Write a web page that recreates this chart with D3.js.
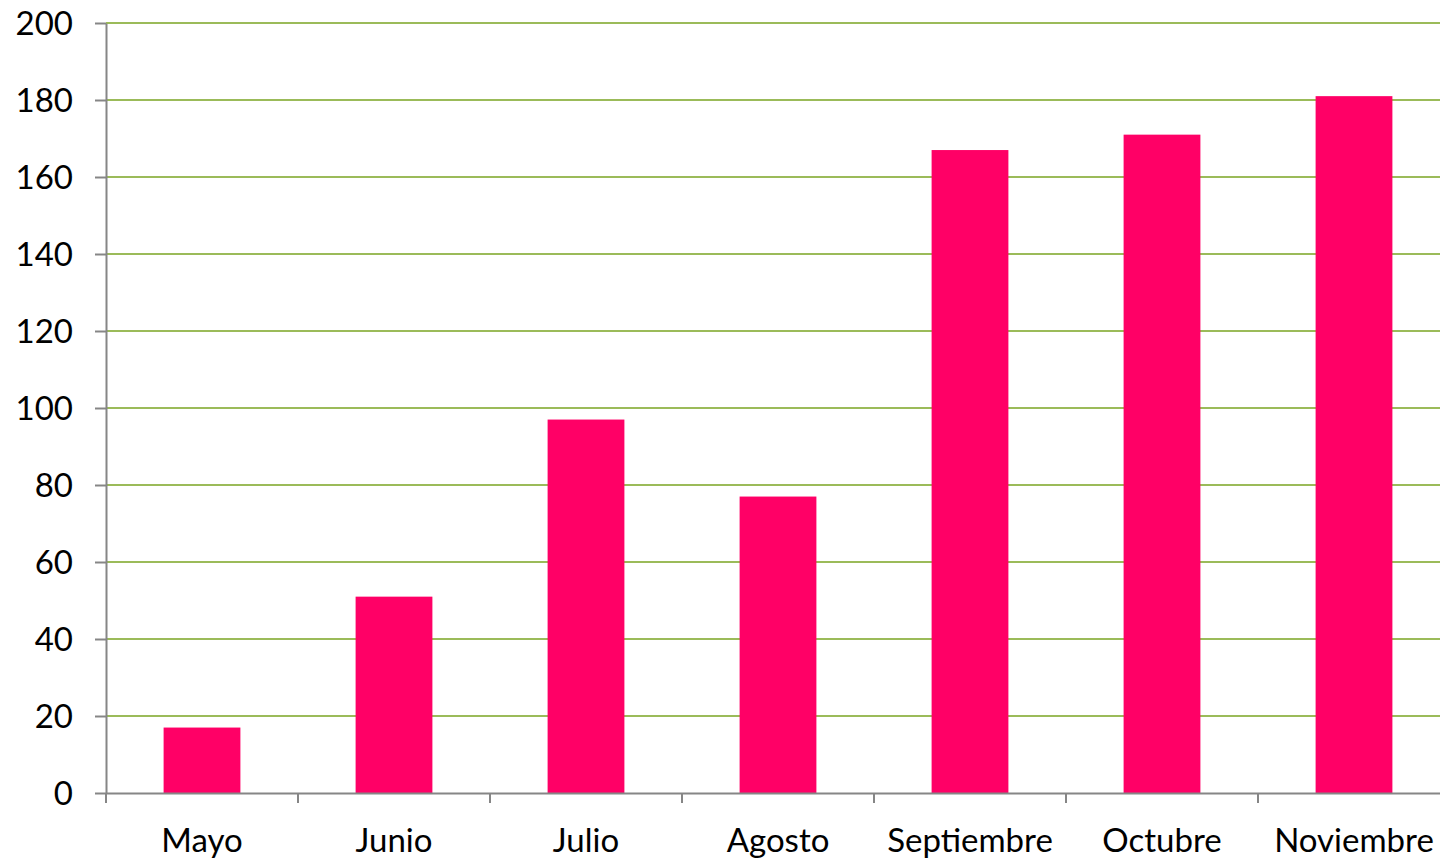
<!DOCTYPE html>
<html><head><meta charset="utf-8">
<script src="https://cdn.jsdelivr.net/npm/d3@7"></script>
<style>html,body{margin:0;padding:0;background:#fff;overflow:hidden}</style>
</head><body><svg id="c" width="1440" height="859"></svg>
<script>
const categories = ["Mayo","Junio","Julio","Agosto","Septiembre","Octubre","Noviembre"];
const values = [17, 51, 97, 77, 167, 171, 181];
const yTicks = [0,20,40,60,80,100,120,140,160,180,200];

const svg = d3.select("#c");
const mLeft = 106, mRight = 1450, mTop = 23, mBottom = 793;
const x = d3.scaleBand().domain(categories).range([mLeft, mRight]).paddingInner(0.6).paddingOuter(0.3);
const y = d3.scaleLinear().domain([0, 200]).range([mBottom, mTop]);
const font = "Lato, 'Open Sans', sans-serif";

// gridlines
svg.append("g").selectAll("line").data(yTicks.filter(d => d > 0)).join("line")
  .attr("x1", mLeft).attr("x2", 1440).attr("y1", d => y(d)).attr("y2", d => y(d))
  .attr("stroke", "#9bbb59").attr("stroke-width", 2);

// bars
svg.append("g").selectAll("rect").data(values).join("rect")
  .attr("x", (d, i) => x(categories[i])).attr("width", x.bandwidth())
  .attr("y", d => y(d)).attr("height", d => y(0) - y(d))
  .attr("fill", "#ff0066");

// y axis
const ya = svg.append("g").attr("transform", `translate(${mLeft},0)`)
  .call(d3.axisLeft(y).tickValues(yTicks).tickSize(11).tickPadding(22).tickSizeOuter(0));
ya.select(".domain").attr("stroke", "#868686").attr("stroke-width", 2);
ya.selectAll(".tick line").attr("stroke", "#868686").attr("stroke-width", 2);
ya.selectAll("text").attr("font-family", font).attr("font-size", 33).attr("fill", "#000").attr("dy", "0.35em");

// x axis
const xa = svg.append("g").attr("transform", `translate(0,${mBottom})`)
  .call(d3.axisBottom(x).tickSize(0).tickPadding(36).tickSizeOuter(0));
xa.select(".domain").attr("stroke", "#868686").attr("stroke-width", 2);
xa.selectAll("text").attr("font-family", font).attr("font-size", 33).attr("fill", "#000");
// category boundary ticks
const bounds = categories.map(c => x(c) - x.step() * 0.3).concat([mRight]);
xa.append("g").selectAll("line").data(bounds).join("line")
  .attr("x1", d => d).attr("x2", d => d).attr("y1", 0).attr("y2", 10)
  .attr("stroke", "#868686").attr("stroke-width", 2);
</script>
</body></html>
